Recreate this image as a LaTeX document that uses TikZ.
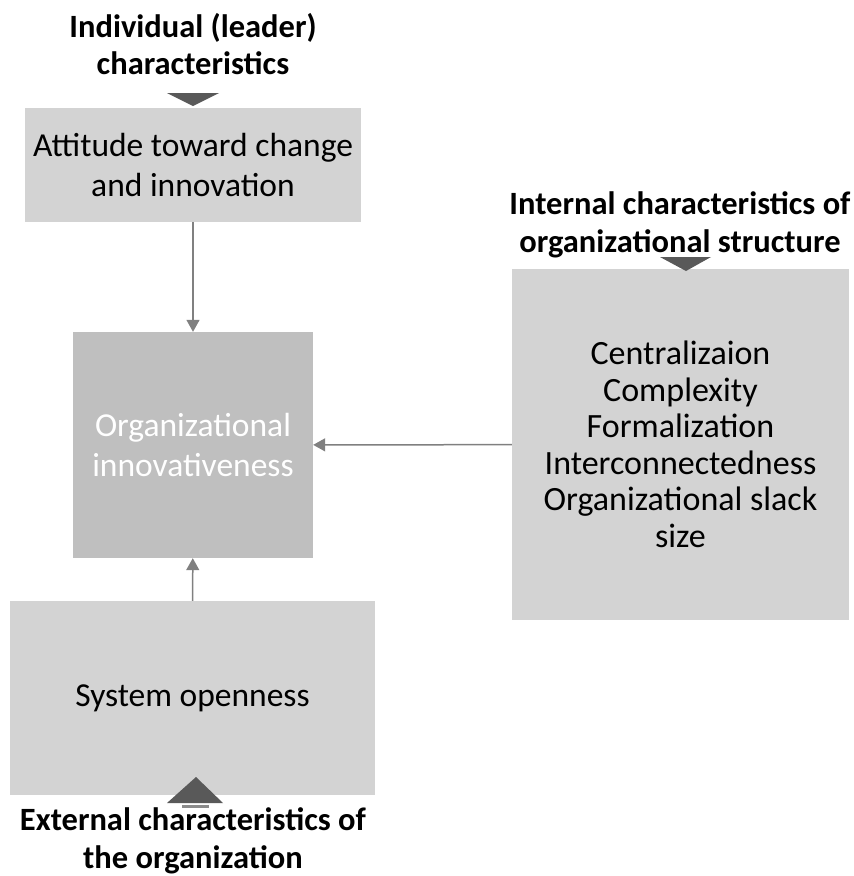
\documentclass[tikz,border=0pt]{standalone}
\usepackage{fontspec}
\setmainfont{Carlito}
\usetikzlibrary{arrows.meta}
\definecolor{boxgray}{HTML}{D3D3D3}
\definecolor{coregray}{HTML}{BFBFBF}
\definecolor{arrowgray}{HTML}{808080}
\definecolor{markgray}{HTML}{595959}

\begin{document}
\begin{tikzpicture}[x=1pt,y=-1pt,
        box/.style={fill=boxgray,inner sep=0pt,align=center,font=\fontsize{33.5}{40}\selectfont},
        head/.style={inner sep=0pt,align=center,font=\fontsize{32.5}{37.5}\selectfont\bfseries},
        link/.style={draw=arrowgray,line width=1.5pt,-{Triangle[length=12pt,width=13pt]}}]
                \useasboundingbox (0,0) rectangle (854,876);
                % Headings
                \node[head] (leader) at (193,44) {Individual (leader)\\characteristics};
                \node[head] (structure) at (680,225) {Internal characteristics of\\organizational structure};
                \node[head] (external) at (193,841) {External characteristics of\\the organization};

                % Boxes
                \node[box,minimum width=336,minimum height=114] (attitude) at (193,165) {Attitude toward change\\and innovation};
                \node[box,fill=coregray,text=white,minimum width=240,minimum height=226] (innov) at (193,445) {Organizational\\innovativeness};
                \node[box,font=\fontsize{34}{36.5}\selectfont,minimum width=337,minimum height=351] (internal) at (680.5,444.5) {Centralizaion\\Complexity\\Formalization\\Interconnectedness\\Organizational slack\\size};
                \node[box,minimum width=365,minimum height=194] (openness) at (192.5,698) {System openness};

                % Links
                \draw[link] (attitude) -- (innov);
                \draw[link] (internal) -- (innov);
                \draw[link] (openness) -- (innov);

                % Heading markers
                \fill[markgray] (167,93) -- (219,93) -- (193,106) -- cycle;
                \fill[markgray] (660,257) -- (711,257) -- (686,271) -- cycle;
                \fill[markgray] (167,803) -- (223,803) -- (196,777) -- cycle;
                \fill[markgray!70] (182,805) rectangle (209,808);
\end{tikzpicture}
\end{document}
